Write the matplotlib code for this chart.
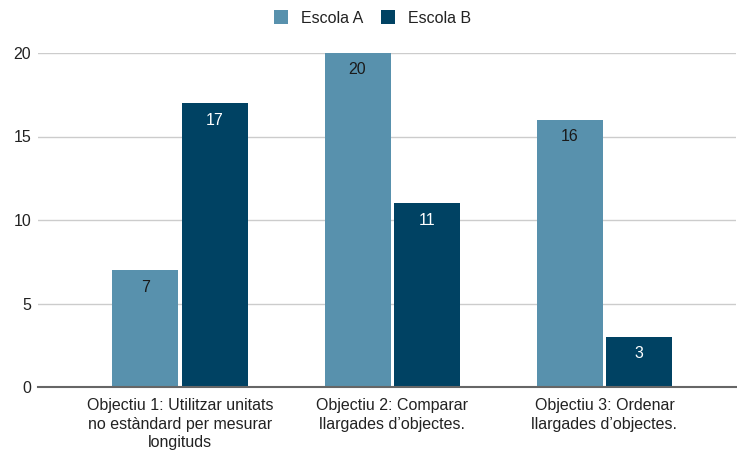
import matplotlib
matplotlib.use("Agg")
import matplotlib.pyplot as plt
import numpy as np

categories = ["Objectiu 1: Utilitzar unitats\nno estàndard per mesurar\nlongituds",
              "Objectiu 2: Comparar\nllargades d’objectes.",
              "Objectiu 3: Ordenar\nllargades d’objectes."]
series_names = ["Escola A", "Escola B"]
escola_a = [7, 20, 16]
escola_b = [17, 11, 3]
yticks = [0, 5, 10, 15, 20]

plt.rcParams['font.family'] = ['Liberation Sans', 'DejaVu Sans']
colors = ["#5891ad", "#004263"]
label_colors = ["#1a1a1a", "#ffffff"]

fig = plt.figure(figsize=(7.37, 4.5), dpi=100)
ax = fig.add_axes([38/737, 1-387/450, (736-38)/737, (387-53)/450])

x = np.arange(len(categories))
w = 0.311
offsets = [-0.164, 0.164]
for i, (vals, name) in enumerate(zip([escola_a, escola_b], series_names)):
    bars = ax.bar(x + offsets[i], vals, width=w, color=colors[i], label=name, zorder=3)
    for b, v in zip(bars, vals):
        ax.annotate(str(v), (b.get_x() + b.get_width()/2, v), xytext=(0, -17),
                    textcoords="offset pixels",
                    ha="center", va="center", fontsize=11.5, color=label_colors[i], zorder=4)

ax.set_xlim(-0.67, 2.62)
ax.set_ylim(0, 20)
ax.set_yticks(yticks)
ax.set_yticklabels([str(t) for t in yticks], fontsize=11.5, color="#222222")
ax.set_xticks(x)
ax.set_xticklabels(categories, fontsize=11.5, color="#222222", linespacing=1.3)
ax.tick_params(axis="both", length=0)
ax.tick_params(axis="y", pad=5)
ax.tick_params(axis="x", pad=8)
ax.grid(axis="y", color="#cccccc", linewidth=1, zorder=0)
for s in ["top", "right", "left"]:
    ax.spines[s].set_visible(False)
ax.spines["bottom"].set_color("#666666")
ax.spines["bottom"].set_linewidth(1.5)
ax.spines["bottom"].set_zorder(5)

fig.legend(loc="center", bbox_to_anchor=(0.505, 1-18/450), ncol=2, frameon=False,
           fontsize=11.5, handlelength=0.9, handleheight=0.9, columnspacing=1.1,
           handletextpad=0.8, labelcolor="#222222")

fig.savefig("out.png", dpi=100)
